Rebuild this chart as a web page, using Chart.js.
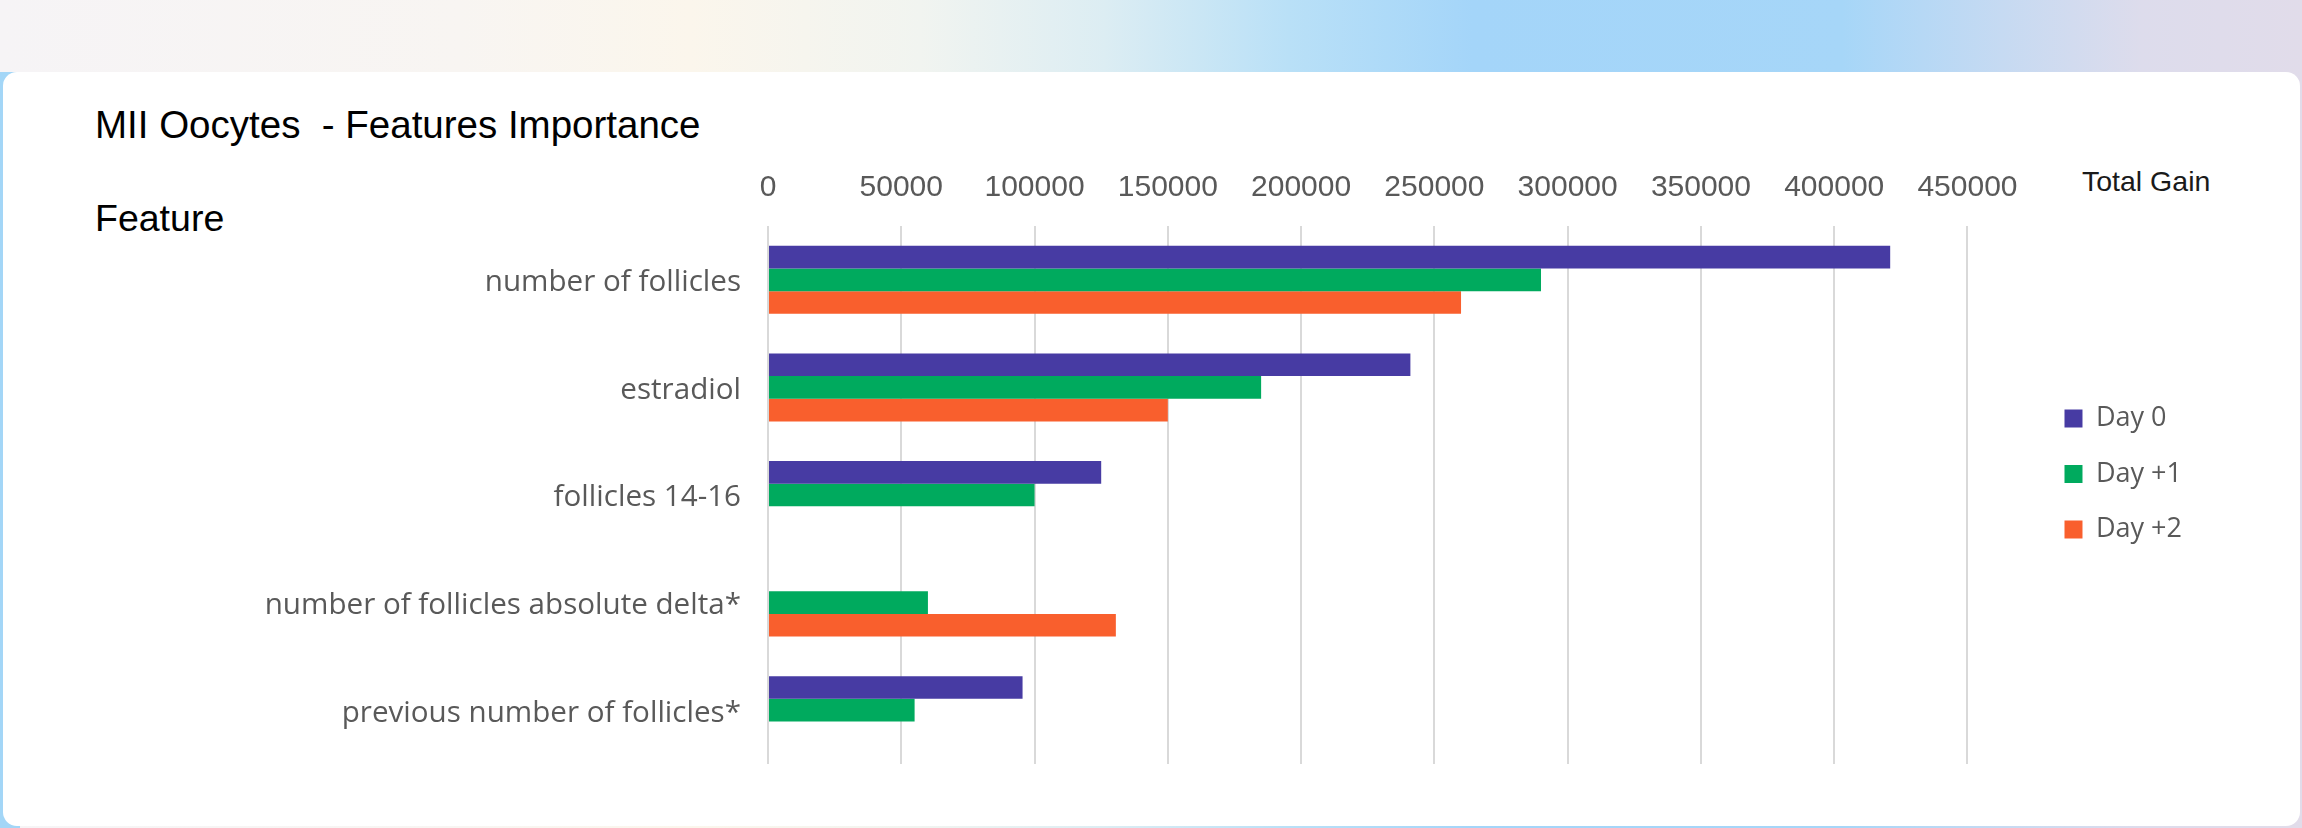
<!DOCTYPE html>
<html>
<head>
<meta charset="utf-8">
<script src="https://cdn.jsdelivr.net/npm/chart.js@4.4.1/dist/chart.umd.min.js"></script>
<style>
  html, body { margin: 0; padding: 0; }
  body {
    width: 2302px; height: 828px; overflow: hidden; position: relative;
    background: linear-gradient(90deg, #f6f4f6 0%, #f8f5f2 20%, #fbf6ec 30%, #f1f4f0 40%, #dcedf3 48%,
      #b9e0f7 56%, #a4d5f9 64%, #a6d6f8 80%, #c6daf2 87%, #dddcec 93%, #e1dcea 100%);
  }
  .edge { position: absolute; left: 0; top: 72px; width: 20px; height: 756px; background: #a3d6f7; }
  .card {
    position: absolute; left: 3px; top: 72px; width: 2297px; height: 754px;
    background: #fff; border-radius: 14px;
  }
  .txt { position: absolute; font-family: "Liberation Sans", Arial, sans-serif; line-height: 1; white-space: pre; color: #000; }
  #title { left: 95px; top: 106px; font-size: 38.5px; }
  #feature { left: 95px; top: 200px; font-size: 37.5px; }
  #gain { left: 2082px; top: 167px; font-size: 28.5px; color: #1a1a1a; }
  canvas { position: absolute; left: 0; top: 0; }
</style>
</head>
<body>
<div class="edge"></div>
<div class="card"></div>
<div class="txt" id="title">MII Oocytes  - Features Importance</div>
<div class="txt" id="feature">Feature</div>
<div class="txt" id="gain">Total Gain</div>
<canvas id="chart" width="2302" height="828"></canvas>
<script>
const categories = ['number of follicles', 'estradiol', 'follicles 14-16', 'number of follicles absolute delta*', 'previous number of follicles*'];
const seriesNames = ['Day 0', 'Day +1', 'Day +2'];
const day0 = [421000, 241000, 125000, null, 95500];
const day1 = [290000, 185000, 100000, 60000, 55000];
const day2 = [260000, 150000, null, 130500, null];
const xTicks = [0, 50000, 100000, 150000, 200000, 250000, 300000, 350000, 400000, 450000];

const colors = ['#473ba3', '#00aa5e', '#f95f2d'];
const gray = '#595959';

const ctx = document.getElementById('chart').getContext('2d');
new Chart(ctx, {
  type: 'bar',
  data: {
    labels: categories,
    datasets: [day0, day1, day2].map((d, i) => ({
      label: seriesNames[i],
      data: d,
      backgroundColor: colors[i],
      borderWidth: 0,
      categoryPercentage: 0.632,
      barPercentage: 1.0
    }))
  },
  options: {
    indexAxis: 'y',
    responsive: false,
    animation: false,
    devicePixelRatio: 1,
    layout: { padding: { left: 0, top: 160, right: 110, bottom: 64 } },
    scales: {
      x: {
        position: 'top',
        min: xTicks[0],
        max: xTicks[xTicks.length - 1],
        afterBuildTicks: s => { s.ticks = xTicks.map(v => ({ value: v })); },
        afterFit: s => { s.height = 66; },
        grid: { color: '#d9d9d9', lineWidth: 2, drawTicks: false },
        border: { display: false },
        ticks: {
          padding: 20,
          color: gray,
          font: { family: 'Liberation Sans', size: 30 },
          callback: v => String(v)
        }
      },
      y: {
        afterFit: s => { s.width = 768; },
        grid: { display: false, drawTicks: false },
        border: { display: false },
        ticks: {
          padding: 27,
          labelOffset: 3,
          color: gray,
          font: { family: 'Open Sans', size: 29.6 }
        }
      },
      gap: {
        type: 'linear',
        position: 'right',
        afterFit: s => { s.width = 68.5; },
        grid: { display: false, drawTicks: false },
        border: { display: false },
        ticks: { display: false }
      }
    },
    plugins: {
      legend: {
        position: 'right',
        title: { display: true, text: '', padding: 0, font: { size: 20 } },
        labels: {
          boxWidth: 18,
          boxHeight: 18,
          padding: 28.5,
          color: gray,
          font: { family: 'Open Sans', size: 27 }
        }
      },
      tooltip: { enabled: false }
    }
  }
});
</script>
</body>
</html>
